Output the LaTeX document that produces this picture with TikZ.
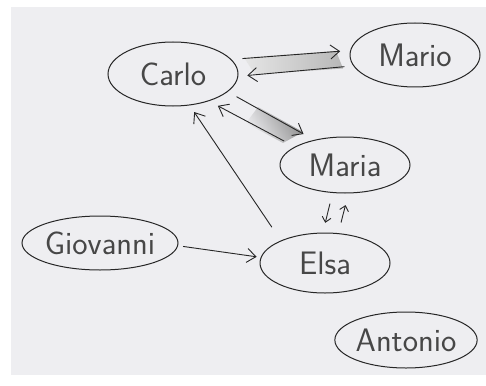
\documentclass[tikz,border=0pt]{standalone}
\usetikzlibrary{arrows.meta,shapes.geometric}
\definecolor{paper}{HTML}{EEEEF1}
\begin{document}
\begin{tikzpicture}[x=1pt,y=-1pt,
  person/.style={ellipse,draw=black!85,line width=1pt,inner sep=0pt,
    font=\sffamily\fontsize{32.5}{32}\selectfont,text=black!72},
  link/.style={draw=black!85,line width=0.9pt,-{Straight Barb[length=9pt,width=14pt,line width=0.9pt]}}]
\useasboundingbox (0,0) rectangle (486,385);
\fill[white] (0,0) rectangle (486,385);
\fill[paper] (11,7) rectangle (486,375);
% nodes
\node[person,minimum width=130pt,minimum height=64pt] (Carlo) at (173,74) {Carlo};
\node[person,minimum width=130pt,minimum height=64pt] (Mario) at (415,55) {Mario};
\node[person,minimum width=130pt,minimum height=56pt] (Maria) at (345,165) {Maria};
\node[person,minimum width=134pt,minimum height=54pt] (Giovanni) at (100,243) {Giovanni};
\node[person,minimum width=130pt,minimum height=60pt] (Elsa) at (325,263) {Elsa};
\node[person,minimum width=132pt,minimum height=56pt] (Antonio) at (406,340) {Antonio};
% shaded bands
\shade[left color=black!10,right color=black!28]
  (244,57.5) -- (336,51) -- (343,68.5) -- (255,74.5) -- cycle;
\shade[left color=paper,right color=black!45,shading angle=120]
  (258,107) -- (303,132) -- (283,143) -- (246,123) -- cycle;
% connectors
\draw[link,shorten <=11pt,shorten >=10pt] (Carlo.14) -- (Mario.176);
\draw[link,shorten <=9pt,shorten >=9pt] (Mario.190) -- (Carlo.-2);
\draw[link,shorten <=10pt,shorten >=12pt] (Carlo.-18) -- (Maria.141);
\draw[link,shorten <=12pt,shorten >=10pt] (Maria.160) -- (Carlo.-37);
\draw[link,shorten <=16pt,shorten >=8pt] (Elsa.153) -- (Carlo.-62);
\draw[link,shorten <=5pt,shorten >=4pt] (Giovanni.-2) -- (Elsa.175);
\draw[link,shorten <=11pt,shorten >=10pt,-{Straight Barb[length=5pt,width=9pt,line width=0.9pt]}] (Maria.246) -- (Elsa.94);
\draw[link,shorten <=11pt,shorten >=12pt,-{Straight Barb[length=5pt,width=9pt,line width=0.9pt]}] (Elsa.66) -- (Maria.-83);
\end{tikzpicture}
\end{document}
